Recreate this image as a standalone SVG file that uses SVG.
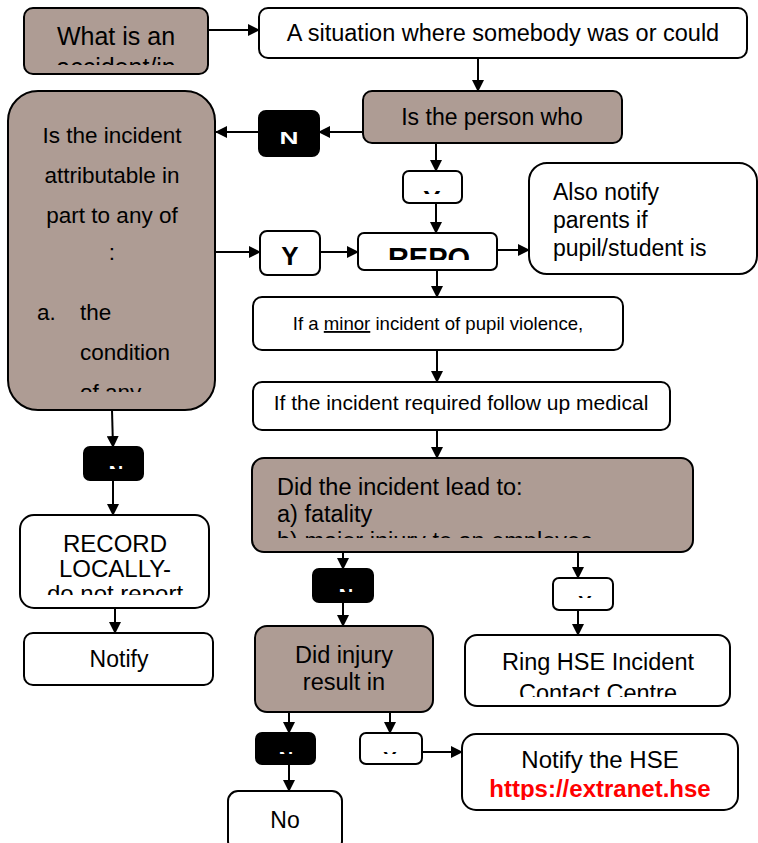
<svg xmlns="http://www.w3.org/2000/svg" width="758" height="843" viewBox="0 0 758 843">
<style>
.b{fill:#ae9c94;stroke:#000;stroke-width:2}
.w{fill:#fff;stroke:#000;stroke-width:2}
.k{fill:#000;stroke:#000;stroke-width:2}
text{font-family:"Liberation Sans",Arial,sans-serif;fill:#000}
.c{text-anchor:middle}
.bt{font-weight:bold}
.wt{fill:#fff}
#connectors line{stroke:#000;stroke-width:2;marker-end:url(#ah)}
</style>
<defs>
<marker id="ah" markerWidth="12" markerHeight="12" viewBox="0 0 12 12" refX="11" refY="6" orient="auto" markerUnits="userSpaceOnUse">
<path d="M0,0 L12,6 L0,12 Z" fill="#000"/>
</marker>
<clipPath id="cp1"><rect x="24" y="8" width="184" height="57"/></clipPath>
<clipPath id="cp2"><rect x="259" y="8" width="488" height="50"/></clipPath>
<clipPath id="cp3"><rect x="363" y="91" width="259" height="44"/></clipPath>
<clipPath id="cpL"><rect x="8" y="91" width="207" height="301"/></clipPath>
<clipPath id="cpY1"><rect x="403" y="171" width="59" height="23"/></clipPath>
<clipPath id="cpR"><rect x="358" y="233" width="139" height="27"/></clipPath>
<clipPath id="cpM"><rect x="253" y="297" width="370" height="43"/></clipPath>
<clipPath id="cpD"><rect x="252" y="458" width="441" height="80"/></clipPath>
<clipPath id="cpN1"><rect x="84" y="447" width="59" height="22"/></clipPath>
<clipPath id="cpRec"><rect x="20" y="515" width="189" height="80"/></clipPath>
<clipPath id="cpN2"><rect x="313" y="569" width="60" height="23"/></clipPath>
<clipPath id="cpY2"><rect x="553" y="578" width="60" height="20"/></clipPath>
<clipPath id="cpI"><rect x="255" y="626" width="178" height="72"/></clipPath>
<clipPath id="cpH"><rect x="465" y="635" width="265" height="62"/></clipPath>
<clipPath id="cpN3"><rect x="256" y="750" width="59" height="4"/></clipPath>
<clipPath id="cpY3"><rect x="360" y="750" width="62" height="4"/></clipPath>
<clipPath id="cpS"><rect x="462" y="734" width="276" height="66"/></clipPath>
</defs>

<g id="connectors">
<line x1="208" y1="30" x2="259" y2="30"/>
<line x1="478" y1="58" x2="478" y2="91"/>
<line x1="363" y1="132" x2="319" y2="132"/>
<line x1="259" y1="132" x2="216" y2="132"/>
<line x1="436" y1="143" x2="436" y2="171"/>
<line x1="436" y1="203" x2="436" y2="233"/>
<line x1="216" y1="252" x2="260" y2="252"/>
<line x1="320" y1="252" x2="358" y2="252"/>
<line x1="497" y1="250" x2="529" y2="250"/>
<line x1="437" y1="270" x2="437" y2="297"/>
<line x1="437" y1="350" x2="437" y2="382"/>
<line x1="437" y1="430" x2="437" y2="458"/>
<line x1="112" y1="410" x2="113" y2="447"/>
<line x1="113" y1="480" x2="113" y2="515"/>
<line x1="115" y1="608" x2="115" y2="633"/>
<line x1="343" y1="552" x2="343" y2="569"/>
<line x1="343" y1="602" x2="343" y2="626"/>
<line x1="578" y1="552" x2="578" y2="578"/>
<line x1="578" y1="610" x2="578" y2="635"/>
<line x1="289" y1="712" x2="289" y2="733"/>
<line x1="390" y1="712" x2="390" y2="733"/>
<line x1="289" y1="764" x2="289" y2="791"/>
<line x1="422" y1="752" x2="462" y2="752"/>
</g>

<g id="n1">
<rect class="b" x="24" y="8" width="184" height="66" rx="9"/>
<g clip-path="url(#cp1)">
<text class="c" x="116" y="45" font-size="25">What is an</text>
<text class="c" x="116" y="76" font-size="25">accident/in</text>
</g>
</g>

<g id="n2">
<rect class="w" x="259" y="8" width="488" height="50" rx="9"/>
<g clip-path="url(#cp2)">
<text class="c" x="503" y="41" font-size="23.5">A situation where somebody was or could</text>
</g>
</g>

<g id="n3">
<rect class="b" x="363" y="91" width="259" height="52" rx="9"/>
<g clip-path="url(#cp3)">
<text class="c" x="492" y="125" font-size="23">Is the person who</text>
</g>
</g>

<g id="nN1">
<rect class="k" x="259" y="111" width="60" height="45" rx="7"/>
<text class="c bt wt" x="289" y="144" font-size="17" textLength="19" lengthAdjust="spacingAndGlyphs">N</text>
</g>

<g id="nL">
<rect class="b" x="8" y="91" width="207" height="319" rx="30"/>
<g clip-path="url(#cpL)" font-size="22.5">
<text class="c" x="112" y="143">Is the incident</text>
<text class="c" x="112" y="183">attributable in</text>
<text class="c" x="112" y="223">part to any of</text>
<text class="c" x="112" y="260">:</text>
<text x="37" y="320">a.</text>
<text x="80" y="320">the</text>
<text x="80" y="360">condition</text>
<text x="80" y="400">of any</text>
</g>
</g>

<g id="nY1">
<rect class="w" x="403" y="171" width="59" height="32" rx="6"/>
<g clip-path="url(#cpY1)">
<text class="c bt" x="432" y="209" font-size="26">Y</text>
</g>
</g>

<g id="nY">
<rect class="w" x="260" y="231" width="60" height="44" rx="7"/>
<text class="c bt" x="290" y="265" font-size="26">Y</text>
</g>

<g id="nR">
<rect class="w" x="358" y="233" width="139" height="37" rx="6"/>
<g clip-path="url(#cpR)">
<text class="c bt" x="429" y="268" font-size="29">REPO</text>
</g>
</g>

<g id="nA">
<rect class="w" x="529" y="163" width="228" height="111" rx="18"/>
<text x="553" y="200" font-size="23">Also notify</text>
<text x="553" y="228" font-size="23">parents if</text>
<text x="553" y="256" font-size="23">pupil/student is</text>
</g>

<g id="nM">
<rect class="w" x="253" y="297" width="370" height="53" rx="9"/>
<g clip-path="url(#cpM)">
<text class="c" x="438" y="330" font-size="18.6">If a <tspan text-decoration="underline">minor</tspan> incident of pupil violence,</text>
</g>
</g>

<g id="nF">
<rect class="w" x="253" y="382" width="417" height="48" rx="9"/>
<text class="c" x="461" y="410" font-size="21">If the incident required follow up medical</text>
</g>

<g id="nD">
<rect class="b" x="252" y="458" width="441" height="94" rx="12"/>
<g clip-path="url(#cpD)" font-size="23.5">
<text x="277" y="495">Did the incident lead to:</text>
<text x="277" y="522">a) fatality</text>
<text x="277" y="549">b) major injury to an employee</text>
</g>
</g>

<g id="nN2">
<rect class="k" x="84" y="447" width="59" height="33" rx="6"/>
<g clip-path="url(#cpN1)">
<text class="c bt wt" x="116" y="479.5" font-size="20">N</text>
</g>
</g>

<g id="nRec">
<rect class="w" x="20" y="515" width="189" height="93" rx="14"/>
<g clip-path="url(#cpRec)" font-size="24">
<text class="c" x="115" y="552">RECORD</text>
<text class="c" x="115" y="577">LOCALLY-</text>
<text class="c" x="115" y="602">do not report</text>
</g>
</g>

<g id="nNot">
<rect class="w" x="24" y="633" width="189" height="52" rx="9"/>
<text class="c" x="119" y="667" font-size="23">Notify</text>
</g>

<g id="nN3">
<rect class="k" x="313" y="569" width="60" height="33" rx="6"/>
<g clip-path="url(#cpN2)">
<text class="c bt wt" x="346" y="602.5" font-size="20">N</text>
</g>
</g>

<g id="nY2">
<rect class="w" x="553" y="578" width="60" height="32" rx="6"/>
<g clip-path="url(#cpY2)">
<text class="c bt" x="585" y="609.5" font-size="20">Y</text>
</g>
</g>

<g id="nI">
<rect class="b" x="255" y="626" width="178" height="86" rx="12"/>
<g clip-path="url(#cpI)" font-size="23.5">
<text class="c" x="344" y="663">Did injury</text>
<text class="c" x="344" y="690">result in</text>
</g>
</g>

<g id="nH">
<rect class="w" x="465" y="635" width="265" height="71" rx="12"/>
<g clip-path="url(#cpH)" font-size="23.5">
<text class="c" x="598" y="670">Ring HSE Incident</text>
<text class="c" x="598" y="701">Contact Centre</text>
</g>
</g>

<g id="nN4">
<rect class="k" x="256" y="733" width="59" height="31" rx="6"/>
<g clip-path="url(#cpN3)">
<text class="c bt wt" x="286" y="765.5" font-size="20">N</text>
</g>
</g>

<g id="nY3">
<rect class="w" x="360" y="733" width="62" height="31" rx="6"/>
<g clip-path="url(#cpY3)">
<text class="c bt" x="390" y="765.5" font-size="20">Y</text>
</g>
</g>

<g id="nNo">
<rect class="w" x="228" y="791" width="114" height="60" rx="10"/>
<text class="c" x="285" y="828" font-size="23">No</text>
</g>

<g id="nS">
<rect class="w" x="462" y="734" width="276" height="76" rx="14"/>
<g clip-path="url(#cpS)">
<text class="c" x="600" y="768" font-size="24">Notify the HSE</text>
<text class="c bt" x="600" y="797" font-size="24" style="fill:#f00">https://extranet.hse</text>
</g>
</g>
</svg>
